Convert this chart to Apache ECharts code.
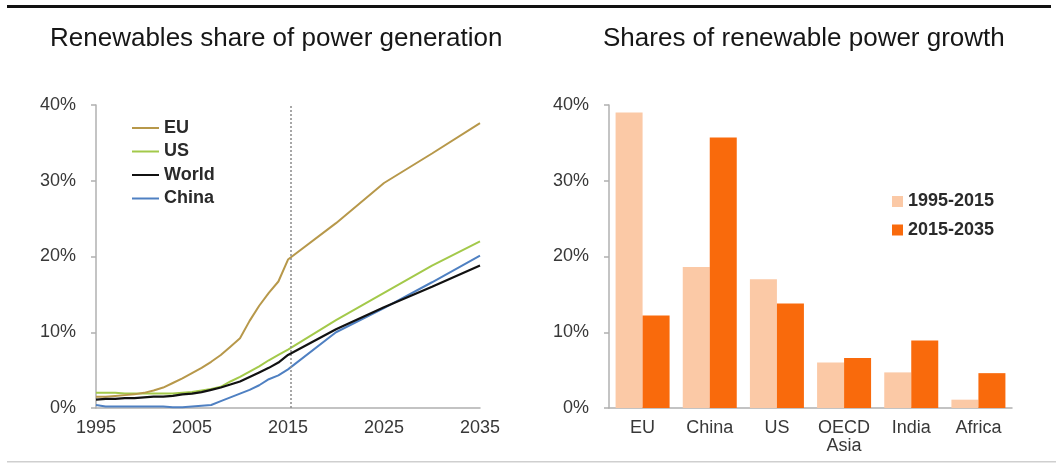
<!DOCTYPE html>
<html>
<head>
<meta charset="utf-8">
<script src="https://cdn.jsdelivr.net/npm/echarts@6/dist/echarts.min.js"></script>
<style>
html,body{margin:0;padding:0;background:#fff;}
#chart{width:1056px;height:463px;}
</style>
</head>
<body>
<div id="chart"></div>
<script>
// ---- Data ----
const years = [1995,1996,1997,1998,1999,2000,2001,2002,2003,2004,2005,2006,2007,2008,2009,2010,2011,2012,2013,2014,2015,2020,2025,2030,2035];
const euShare    = [1.5,1.5,1.6,1.7,1.8,2.0,2.3,2.7,3.3,3.9,4.6,5.3,6.1,7.0,8.1,9.2,11.5,13.5,15.2,16.7,19.6,24.4,29.7,33.6,37.6];
const usShare    = [2.0,2.0,2.0,1.9,1.9,1.9,1.9,1.9,1.9,2.0,2.1,2.3,2.5,2.8,3.5,4.1,4.8,5.5,6.3,7.0,7.7,11.6,15.2,18.8,22.0];
const worldShare = [1.1,1.2,1.2,1.3,1.3,1.4,1.5,1.5,1.6,1.8,1.9,2.1,2.4,2.7,3.1,3.5,4.1,4.7,5.3,6.0,7.0,10.4,13.3,16.0,18.8];
const chinaShare = [0.4,0.2,0.2,0.2,0.2,0.2,0.2,0.2,0.1,0.1,0.2,0.3,0.4,0.9,1.4,1.9,2.4,3.0,3.8,4.3,5.1,10.0,13.2,16.6,20.1];
const dividerYear = 2015.3;

const regions = ['EU','China','US','OECD\nAsia','India','Africa'];
const growth1995_2015 = [39.0,18.6,17.0,6.0,4.7,1.1];
const growth2015_2035 = [12.2,35.7,13.8,6.6,8.9,4.6];

const leftTitle = 'Renewables share of power generation';
const rightTitle = 'Shares of renewable power growth';

// ---- Helpers ----
const pair = (vals) => years.map((y, i) => [y, vals[i]]);
const FONT = '"Liberation Sans", Arial, Helvetica, sans-serif';
const axisGray = '#b0b0b0';
const labelColor = '#383838';

const yAxisCommon = {
  type: 'value', min: 0, max: 40, interval: 10,
  axisLine: {show: true, lineStyle: {color: axisGray, width: 1.5}},
  axisTick: {show: true, inside: false, length: 5, lineStyle: {color: axisGray, width: 1.5}},
  splitLine: {show: false},
  axisLabel: {formatter: '{value}%', color: labelColor, fontSize: 18, fontFamily: FONT, margin: 20}
};

const chart = echarts.init(document.getElementById('chart'), null, {renderer: 'canvas'});
chart.setOption({
  backgroundColor: '#fff',
  animation: false,
  title: [
    {text: leftTitle, left: 45, top: 21, textStyle: {fontSize: 26, fontWeight: 'normal', color: '#161616', fontFamily: FONT}},
    {text: rightTitle, left: 598, top: 21, textStyle: {fontSize: 26, fontWeight: 'normal', color: '#161616', fontFamily: FONT}}
  ],
  graphic: [
    {type: 'rect', shape: {x: 7, y: 5, width: 1044, height: 3}, style: {fill: '#111'}, silent: true},
    {type: 'rect', shape: {x: 7, y: 461, width: 1049, height: 1.5}, style: {fill: '#cfcfcf'}, silent: true}
  ],
  legend: [
    {
      data: ['EU','US','World','China'],
      orient: 'vertical', left: 132, top: 119, padding: 0,
      icon: 'rect', itemWidth: 27, itemHeight: 2, itemGap: 5.5,
      textStyle: {fontSize: 18, fontWeight: 'bold', color: '#2a2a2a', fontFamily: FONT}
    },
    {
      data: ['1995-2015','2015-2035'],
      orient: 'vertical', left: 892, top: 192.5, padding: 0,
      icon: 'rect', itemWidth: 11, itemHeight: 11, itemGap: 10.5,
      textStyle: {fontSize: 18, fontWeight: 'bold', color: '#2a2a2a', fontFamily: FONT}
    }
  ],
  grid: [
    {left: 96, top: 105, width: 384, height: 303},
    {left: 609, top: 105, width: 403, height: 303}
  ],
  xAxis: [
    {
      gridIndex: 0, type: 'value', min: 1995, max: 2035, interval: 5,
      axisLine: {show: true, lineStyle: {color: axisGray, width: 1.5}},
      axisTick: {show: false}, splitLine: {show: false},
      axisLabel: {
        color: labelColor, fontSize: 18, fontFamily: FONT, margin: 11,
        formatter: (v) => ((v - 1995) % 10 === 0 ? String(v) : '')
      }
    },
    {
      gridIndex: 1, type: 'category', data: regions,
      axisLine: {show: true, lineStyle: {color: axisGray, width: 1.5}},
      axisTick: {show: false},
      axisLabel: {color: labelColor, fontSize: 18, fontFamily: FONT, margin: 11, lineHeight: 18, interval: 0}
    }
  ],
  yAxis: [
    Object.assign({gridIndex: 0}, yAxisCommon),
    Object.assign({gridIndex: 1}, yAxisCommon)
  ],
  series: [
    {
      name: 'EU', type: 'line', xAxisIndex: 0, yAxisIndex: 0, data: pair(euShare),
      showSymbol: false, lineStyle: {color: '#b7984a', width: 2}, itemStyle: {color: '#b7984a'}, z: 4,
      markLine: {
        silent: true, symbol: 'none', label: {show: false},
        lineStyle: {color: '#8a8a8a', type: [2, 2], width: 1.5},
        data: [{xAxis: dividerYear}]
      }
    },
    {name: 'US', type: 'line', xAxisIndex: 0, yAxisIndex: 0, data: pair(usShare),
      showSymbol: false, lineStyle: {color: '#a3c94a', width: 2}, itemStyle: {color: '#a3c94a'}, z: 3},
    {name: 'World', type: 'line', xAxisIndex: 0, yAxisIndex: 0, data: pair(worldShare),
      showSymbol: false, lineStyle: {color: '#111111', width: 2.2}, itemStyle: {color: '#111111'}, z: 5},
    {name: 'China', type: 'line', xAxisIndex: 0, yAxisIndex: 0, data: pair(chinaShare),
      showSymbol: false, lineStyle: {color: '#4f80c2', width: 2}, itemStyle: {color: '#4f80c2'}, z: 2},
    {name: '1995-2015', type: 'bar', xAxisIndex: 1, yAxisIndex: 1, data: growth1995_2015,
      barWidth: 27, barGap: '0%', itemStyle: {color: '#fbc9a6'}},
    {name: '2015-2035', type: 'bar', xAxisIndex: 1, yAxisIndex: 1, data: growth2015_2035,
      barWidth: 27, barGap: '0%', itemStyle: {color: '#f96a0c'}}
  ]
});
</script>
</body>
</html>
